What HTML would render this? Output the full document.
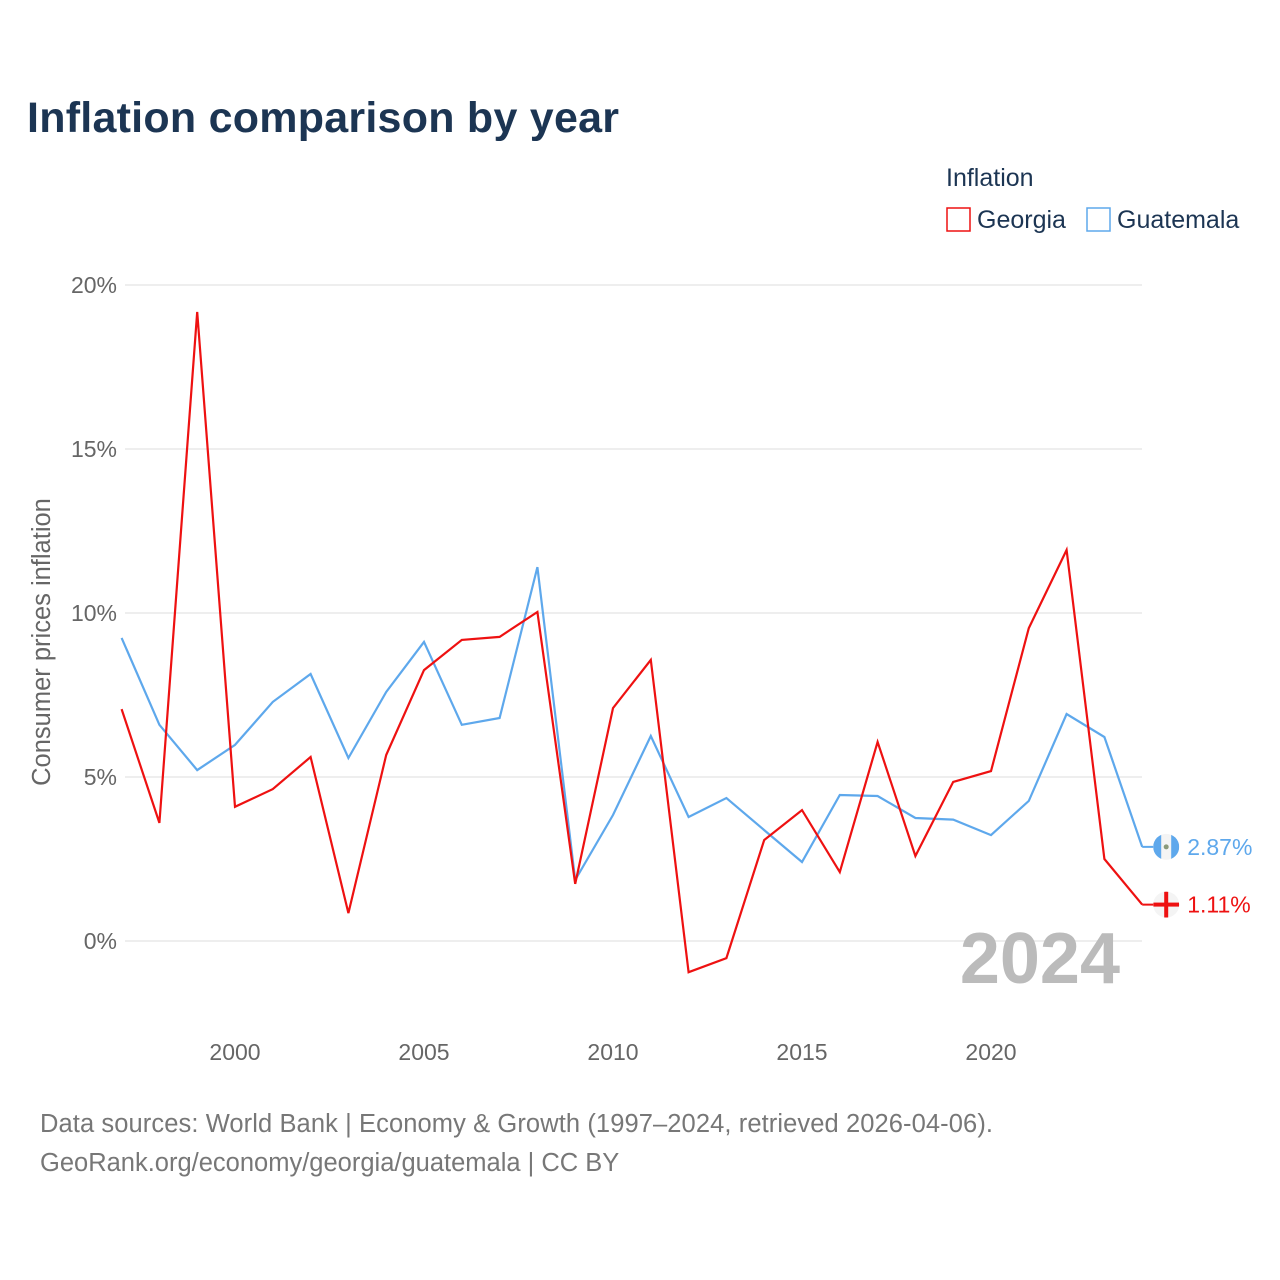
<!DOCTYPE html>
<html><head><meta charset="utf-8">
<style>
body{margin:0;background:#fff;font-family:"Liberation Sans",sans-serif;}
#wrap{position:relative;width:1280px;height:1280px;overflow:hidden;}
</style></head>
<body>
<div id="wrap">
<svg id="chart" width="1280" height="1280" xmlns="http://www.w3.org/2000/svg">
<defs><clipPath id="gclip"><circle cx="1166" cy="847" r="13"/></clipPath></defs>
<text x="27" y="132" font-size="43" font-weight="bold" fill="#1c3553" textLength="592">Inflation comparison by year</text>
<text x="946" y="186" font-size="25" fill="#1c3553">Inflation</text>
<g>
<rect x="947" y="208" width="23" height="23" fill="none" stroke="#ee1111" stroke-width="1.5"/>
<text x="977" y="228" font-size="25" fill="#1c3553">Georgia</text></g>
<g>
<rect x="1087" y="208" width="23" height="23" fill="none" stroke="#5ea8ec" stroke-width="1.5"/>
<text x="1117" y="228" font-size="25" fill="#1c3553">Guatemala</text></g>
<g id="grid"></g>
<g id="ylabels"></g>
<g id="xlabels"></g>
<text x="1120" y="983" font-size="72" font-weight="bold" fill="#bbbbbb" text-anchor="end">2024</text>
<text transform="translate(50,642) rotate(-90)" font-size="25.5" fill="#666" text-anchor="middle">Consumer prices inflation</text>
<g id="series"></g>
<text x="40" y="1132" font-size="25.5" fill="#777" textLength="953">Data sources: World Bank | Economy &amp; Growth (1997–2024, retrieved 2026-04-06).</text>
<text x="40" y="1171" font-size="25.5" fill="#777">GeoRank.org/economy/georgia/guatemala | CC BY</text>
</svg>
</div>
<script>
const years = [1997,1998,1999,2000,2001,2002,2003,2004,2005,2006,2007,2008,2009,2010,2011,2012,2013,2014,2015,2016,2017,2018,2019,2020,2021,2022,2023,2024];
const georgia = [7.07,3.6,19.18,4.09,4.63,5.61,0.85,5.67,8.26,9.18,9.27,10.03,1.74,7.10,8.57,-0.95,-0.52,3.08,3.99,2.10,6.07,2.59,4.85,5.18,9.54,11.92,2.50,1.11];
const guatemala = [9.24,6.59,5.21,5.98,7.29,8.14,5.58,7.59,9.12,6.59,6.80,11.40,1.86,3.84,6.25,3.78,4.36,3.38,2.41,4.45,4.42,3.75,3.70,3.23,4.27,6.92,6.22,2.87];
const yTicks = [0,5,10,15,20];
const xTicks = [2000,2005,2010,2015,2020];
const NS="http://www.w3.org/2000/svg";
const x = v => 121.6 + (v-1997)*37.8;
const y = v => 941 - v*32.8;
function mk(tag,attrs,parent){const e=document.createElementNS(NS,tag);for(const k in attrs)e.setAttribute(k,attrs[k]);parent.appendChild(e);return e;}
const grid=document.getElementById('grid'),yl=document.getElementById('ylabels'),xl=document.getElementById('xlabels'),ser=document.getElementById('series');
yTicks.forEach(t=>{
  const l=mk('line',{x1:125,x2:1142,y1:y(t),y2:y(t),stroke:'#e8e8e8','stroke-width':1.5},grid);
  
  
  const tx=mk('text',{x:117,y:y(t)+8,'font-size':23,fill:'#666','text-anchor':'end'},yl);
  tx.textContent=t+'%';
  
  
});
xTicks.forEach(t=>{
  const tx=mk('text',{x:x(t),y:1060,'font-size':23,fill:'#666','text-anchor':'middle'},xl);
  tx.textContent=t;
  
  
});
function line(vals,color,name){
  const d=vals.map((v,i)=>(i?'L':'M')+x(years[i]).toFixed(1)+','+y(v).toFixed(1)).join(' ');
  const p=mk('path',{d:d,fill:'none',stroke:color,'stroke-width':2.2,'stroke-linejoin':'miter'},ser);
  
  
  const last=vals[vals.length-1],lx=x(years[years.length-1]),ly=y(last);
  const s=mk('line',{x1:lx,x2:lx+24,y1:ly,y2:ly,stroke:color,'stroke-width':2},ser);
  
  
  const g=mk('g',{},ser);
  
  
  const cp=mk('clipPath',{id:'clip-'+name},g);
  mk('circle',{cx:lx+24,cy:ly,r:13},cp);
  mk('circle',{cx:lx+24,cy:ly,r:13,fill:'#f4f4f4'},g);
  const inner=mk('g',{'clip-path':'url(#clip-'+name+')'},g);
  if(name==='georgia'){
    mk('rect',{x:lx+22,y:ly-13,width:4,height:26,fill:color},inner);
    mk('rect',{x:lx+11,y:ly-2,width:26,height:4,fill:color},inner);
  }else{
    mk('rect',{x:lx+11,y:ly-13,width:8,height:26,fill:color},inner);
    mk('rect',{x:lx+29,y:ly-13,width:8,height:26,fill:color},inner);
    mk('circle',{cx:lx+24,cy:ly,r:2.5,fill:'#8a9a7a'},inner);
  }
  const t=mk('text',{x:lx+45,y:ly+8,'font-size':23,fill:color},ser);
  t.textContent=last.toFixed(2)+'%';
  
  
}
line(guatemala,'#5ea8ec','guatemala');
line(georgia,'#ee1111','georgia');
</script>
</body></html>
